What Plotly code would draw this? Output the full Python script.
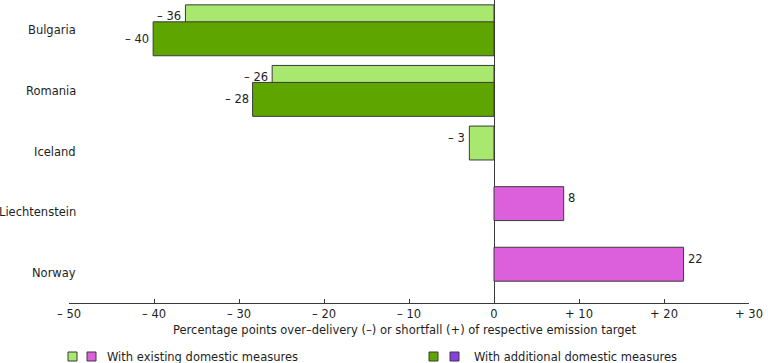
import plotly.graph_objects as go

countries = ["Bulgaria", "Romania", "Iceland", "Liechtenstein", "Norway"]
existing = [-36.3, -26.1, -2.9, 8.2, 22.3]
additional = [-40.1, -28.4, None, None, None]
tick_vals = [-50, -40, -30, -20, -10, 0, 10, 20, 30]
tick_text = ["– 50", "– 40", "– 30", "– 20", "– 10", "0", "+ 10", "+ 20", "+ 30"]
x_title = "Percentage points over–delivery (–) or shortfall (+) of respective emission target"
legend_labels = ["With existing domestic measures", "With additional domestic measures"]

C_EXIST_NEG = "#a8e86f"
C_EXIST_POS = "#dc60dc"
C_ADD_NEG = "#5ea500"
C_ADD_POS = "#8a3fe3"
EDGE = "#3a3a3a"
TXT = "#1e1e1e"
FONT = "DejaVu Sans"
FS = 11.5

W, H = 768, 363
ML, MR, MT, MB = 69, 19, 0, 60
PW, PH = W - ML - MR, H - MT - MB


def px(x):
    return (x - ML) / PW


def py(y):
    return (H - MB - y) / PH


def fmt(v):
    r = round(v)
    return f"– {abs(r)}" if r < 0 else f"{r}"


fig = go.Figure()
fig.add_trace(go.Bar(
    y=countries, x=existing, orientation="h",
    offset=-0.42, width=0.56,
    marker=dict(color=[C_EXIST_NEG if v < 0 else C_EXIST_POS for v in existing],
                line=dict(color=EDGE, width=1)),
    showlegend=False, hoverinfo="x+y",
))
fig.add_trace(go.Bar(
    y=countries, x=additional, orientation="h",
    offset=-0.14, width=0.56,
    marker=dict(color=[C_ADD_NEG if (v is not None and v < 0) else C_ADD_POS for v in additional],
                line=dict(color=EDGE, width=1)),
    showlegend=False, hoverinfo="x+y",
))

ann = []
for c, v in zip(countries, existing):
    ann.append(dict(x=v, y=c, xref="x", yref="y", text=fmt(v), showarrow=False,
                    xanchor="right" if v < 0 else "left", xshift=-2 if v < 0 else 2,
                    yshift=14, font=dict(size=FS, color=TXT, family=FONT)))
for c, v in zip(countries, additional):
    if v is None:
        continue
    ann.append(dict(x=v, y=c, xref="x", yref="y", text=fmt(v), showarrow=False,
                    xanchor="right" if v < 0 else "left", xshift=-2 if v < 0 else 2,
                    yshift=-8.5, font=dict(size=FS, color=TXT, family=FONT)))
for c in countries:
    ann.append(dict(x=px(78), y=c, xref="paper", yref="y", text=c, showarrow=False,
                    xanchor="right", font=dict(size=FS, color=TXT, family=FONT)))

# x-axis title
ann.append(dict(x=px(405), y=py(329.5), xref="paper", yref="paper", text=x_title,
                showarrow=False, xanchor="center", yanchor="middle",
                font=dict(size=FS, color=TXT, family=FONT)))

# legend
shapes = []
leg = [
    ((68, C_EXIST_NEG), (87, C_EXIST_POS), 105, legend_labels[0]),
    ((429, C_ADD_NEG), (450, C_ADD_POS), 472, legend_labels[1]),
]
for (x1, col1), (x2, col2), tx, label in leg:
    for xx, col in ((x1, col1), (x2, col2)):
        shapes.append(dict(type="rect", xref="paper", yref="paper",
                           x0=px(xx), x1=px(xx + 9), y0=py(361), y1=py(352),
                           fillcolor=col, line=dict(color=EDGE, width=1)))
    ann.append(dict(x=px(tx), y=py(357), xref="paper", yref="paper", text=label,
                    showarrow=False, xanchor="left", yanchor="middle",
                    font=dict(size=FS, color=TXT, family=FONT)))

fig.update_layout(
    width=W, height=H,
    margin=dict(l=ML, r=MR, t=MT, b=MB),
    plot_bgcolor="white", paper_bgcolor="white",
    barmode="overlay",
    font=dict(family=FONT, size=FS, color=TXT),
    xaxis=dict(range=[-50, 30], tickvals=tick_vals, ticktext=tick_text,
               showgrid=False, zeroline=True, zerolinecolor=EDGE, zerolinewidth=1,
               showline=True, linecolor=EDGE, linewidth=1,
               ticks="inside", ticklen=4, tickcolor=EDGE,
               ticklabelstandoff=0,
               tickfont=dict(size=FS, color=TXT, family=FONT)),
    yaxis=dict(type="category", categoryorder="array", categoryarray=countries,
               range=[4.5, -0.5], showticklabels=False, showgrid=False,
               zeroline=False, showline=False, ticks=""),
    annotations=ann, shapes=shapes,
    showlegend=False,
)

fig.write_html("out.html", config={"displayModeBar": False},
               post_script="document.body.style.margin='0';document.body.style.overflow='hidden';")
